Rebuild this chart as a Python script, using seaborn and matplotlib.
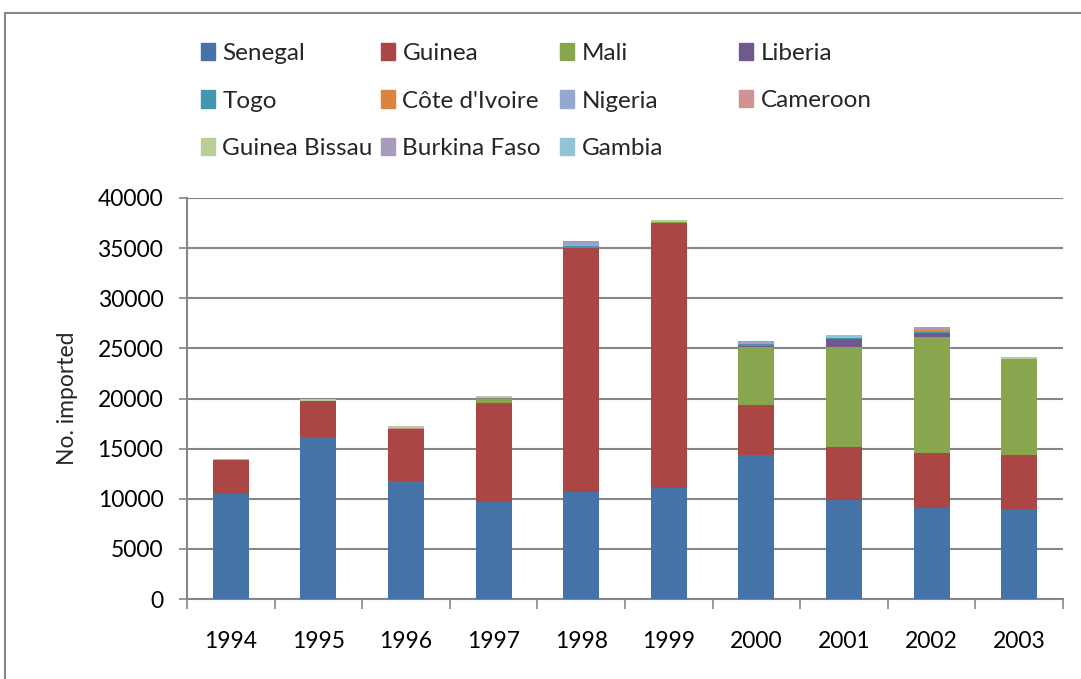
import matplotlib
matplotlib.use("Agg")
import matplotlib.pyplot as plt
import seaborn as sns
import pandas as pd
from matplotlib.lines import Line2D

years = ["1994", "1995", "1996", "1997", "1998", "1999", "2000", "2001", "2002", "2003"]

senegal = [10500, 16150, 11800, 9700, 10700, 11100, 14350, 9900, 9050, 9000]
guinea = [3350, 3600, 5200, 9900, 24350, 26400, 5000, 5250, 5550, 5350]
mali = [0, 0, 0, 400, 0, 150, 5800, 10000, 11550, 9600]
liberia = [0, 0, 0, 0, 0, 0, 100, 750, 350, 0]
togo = [0, 0, 0, 0, 150, 0, 200, 150, 150, 0]
cote = [0, 0, 0, 0, 0, 0, 0, 0, 150, 0]
nigeria = [0, 0, 0, 0, 200, 0, 100, 0, 0, 0]
cameroon = [0, 0, 100, 0, 0, 0, 0, 0, 0, 0]
bissau = [0, 200, 200, 200, 0, 200, 0, 0, 0, 200]
burkina = [0, 0, 0, 0, 300, 0, 200, 0, 300, 0]
gambia = [150, 0, 0, 0, 0, 0, 0, 250, 0, 0]

countries = ["Senegal", "Guinea", "Mali", "Liberia", "Togo", "Côte d'Ivoire", "Nigeria",
             "Cameroon", "Guinea Bissau", "Burkina Faso", "Gambia"]
series = [senegal, guinea, mali, liberia, togo, cote, nigeria, cameroon, bissau, burkina, gambia]
colors = ["#4572A7", "#AA4643", "#89A54E", "#71588F", "#4198AF", "#DB843D", "#93A9CF",
          "#D19392", "#B9CD96", "#A99BBD", "#92C4D6"]

sns.set_style("white")
plt.rcParams['font.family'] = ['Lato', 'DejaVu Sans']

W, H = 1081, 679
fig = plt.figure(figsize=(W / 100, H / 100), dpi=100)
ax = fig.add_axes([187 / W, 1 - 599 / H, (1063 - 187) / W, (599 - 198) / H])

df = pd.DataFrame({"year": years})
bottom = [0] * len(years)
handles = {}
for name, vals, col in zip(countries, series, colors):
    df["v"] = vals
    sns.barplot(data=df, x="year", y="v", color=col, width=0.41, bottom=bottom,
                linewidth=0, ax=ax, zorder=3, saturation=1)
    handles[name] = plt.Rectangle((0, 0), 1, 1, color=col)
    bottom = [b + v for b, v in zip(bottom, vals)]

ax.set_xlim(-0.5, 9.5)
ax.set_ylim(0, 40000)
ax.set_yticks(range(0, 40001, 5000))
ax.yaxis.grid(True, color="#868686", linewidth=1.5, zorder=0)
ax.set_xlabel("")
ax.set_ylabel("No. imported", fontsize=16.5, labelpad=14)
ax.tick_params(axis="both", labelsize=16.5, colors="black")
ax.tick_params(axis="y", length=6, width=1.2, color="#868686", left=True, pad=11)
ax.tick_params(axis="x", which="major", length=0, pad=23)
ax.set_xticks([i + 0.5 for i in range(-1, 10)], minor=True)
ax.tick_params(axis="x", which="minor", length=7, width=1.2, color="#868686", bottom=True)
for s in ["top", "right"]:
    ax.spines[s].set_visible(False)
for s in ["left", "bottom"]:
    ax.spines[s].set_color("#868686")
    ax.spines[s].set_linewidth(1.5)

# legend: Excel-style fixed column widths, filled row by row
legend_cols = [["Senegal", "Togo", "Guinea Bissau"],
               ["Guinea", "Côte d'Ivoire", "Burkina Faso"],
               ["Mali", "Nigeria", "Gambia"],
               ["Liberia", "Cameroon"]]
col_x = [201, 381, 560, 739]
for names, x in zip(legend_cols, col_x):
    yc = 101 if len(names) == 3 else 77
    leg = fig.legend([handles[n] for n in names], names, loc="center left",
                     bbox_to_anchor=(x / W, 1 - yc / H), frameon=False, fontsize=17.5,
                     handlelength=0.58, handleheight=0.7, handletextpad=0.3,
                     labelspacing=1.09, borderpad=0, borderaxespad=0)

# outer chart border
fig.add_artist(Line2D([5 / W, 5 / W], [0, 1 - 13 / H], transform=fig.transFigure,
                      color="#868686", linewidth=1.5))
fig.add_artist(Line2D([5 / W, 1], [1 - 13 / H, 1 - 13 / H], transform=fig.transFigure,
                      color="#868686", linewidth=1.5))

fig.savefig("out.png", dpi=100)
